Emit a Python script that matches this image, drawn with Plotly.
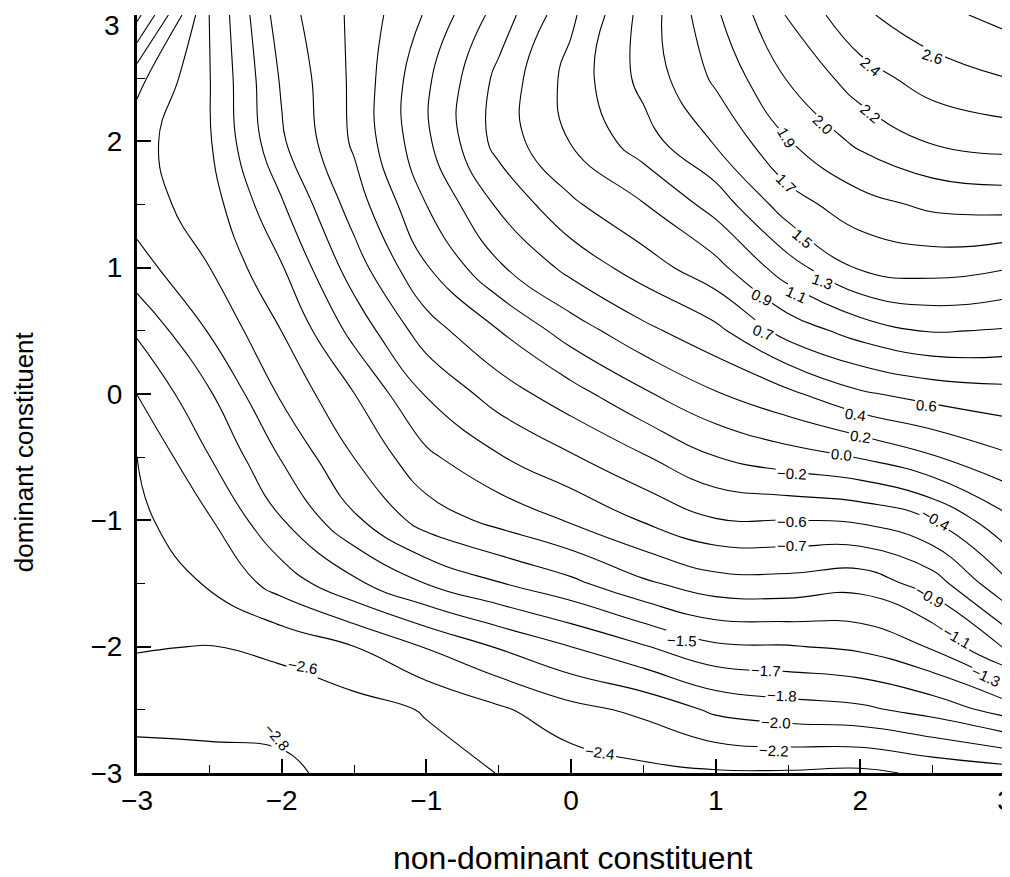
import plotly.graph_objects as go

# grid coordinates (non-dominant = x, dominant = y)
x_vals = [-3, -2.5, -2, -1.5, -1, -0.5, 0, 0.5, 1, 1.5, 2, 2.5, 3]
y_vals = [-3, -2.5, -2, -1.5, -1, -0.5, 0, 0.5, 1, 1.5, 2, 2.5, 3]

z_rows = [
    [-2.88, -2.86, -2.83, -2.75, -2.69, -2.61, -2.54, -2.48, -2.45, -2.45, -2.47, -2.39, -2.34],
    [-2.74, -2.74, -2.75, -2.69, -2.60, -2.46, -2.30, -2.20, -2.02, -1.95, -1.91, -1.80, -1.61],
    [-2.60, -2.62, -2.56, -2.43, -2.23, -2.04, -1.87, -1.70, -1.53, -1.51, -1.46, -1.29, -0.91],
    [-2.54, -2.41, -2.16, -1.91, -1.68, -1.51, -1.36, -1.16, -1.02, -1.01, -1.06, -0.85, -0.42],
    [-2.48, -2.26, -1.88, -1.53, -1.23, -1.07, -0.92, -0.74, -0.58, -0.57, -0.54, -0.38, -0.06],
    [-2.43, -2.06, -1.67, -1.31, -0.98, -0.77, -0.59, -0.40, -0.20, -0.09, 0.00, 0.16, 0.33],
    [-2.24, -1.89, -1.47, -1.13, -0.74, -0.48, -0.27, -0.04, 0.16, 0.32, 0.52, 0.62, 0.67],
    [-2.03, -1.67, -1.31, -0.88, -0.47, -0.20, 0.08, 0.31, 0.50, 0.81, 1.00, 1.12, 1.09],
    [-1.76, -1.50, -1.14, -0.66, -0.21, 0.15, 0.42, 0.64, 0.86, 1.21, 1.50, 1.55, 1.49],
    [-1.59, -1.40, -0.96, -0.48, -0.01, 0.39, 0.70, 0.91, 1.18, 1.58, 1.78, 1.89, 1.92],
    [-1.57, -1.33, -0.78, -0.35, 0.14, 0.62, 0.93, 1.21, 1.50, 1.84, 2.08, 2.24, 2.30],
    [-1.74, -1.32, -0.73, -0.34, 0.14, 0.60, 0.99, 1.35, 1.70, 2.05, 2.32, 2.50, 2.59],
    [-2.30, -1.31, -0.65, -0.34, 0.01, 0.44, 0.88, 1.36, 1.82, 2.24, 2.56, 2.72, 2.84],
]

# contour labels as printed on the chart
label_text = ["2.6", "2.4", "2.2", "2.0", "1.9", "1.7", "1.5", "1.3", "1.1", "0.9", "0.7",
              "0.6", "0.4", "0.2", "0.0", "-0.2", "-0.4", "-0.6", "-0.7", "-0.9", "-1.1",
              "-1.3", "-1.5", "-1.7", "-1.8", "-2.0", "-2.2", "-2.4", "-2.6", "-2.8"]
label_x = [2.50, 2.07, 2.07, 1.74, 1.49, 1.49, 1.60, 1.74, 1.56, 1.32, 1.33,
           2.46, 1.97, 2.00, 1.87, 1.53, 2.52, 1.53, 1.53, 2.48, 2.67,
           2.87, 0.77, 1.35, 1.46, 1.42, 1.40, 0.20, -1.85, -2.03]
label_y = [2.67, 2.59, 2.22, 2.13, 2.03, 1.67, 1.23, 0.89, 0.79, 0.76, 0.49,
           -0.09, -0.16, -0.34, -0.48, -0.63, -0.99, -1.01, -1.20, -1.60, -1.93,
           -2.24, -1.95, -2.19, -2.39, -2.60, -2.82, -2.84, -2.16, -2.72]
label_angle = [18, 40, 40, 45, 60, 45, 40, 20, 25, 25, 20,
               5, 8, 8, 5, 3, 30, 0, 0, 30, 30,
               25, 3, 3, 3, 3, 3, 8, 10, 50]

tick_vals = [-3, -2, -1, 0, 1, 2, 3]
x_tick_text = ["\u22123", "\u22122", "\u22121", "0", "1", "2", "3"]
# the top y label "3" sits a little below its tick in the original; drawn separately
y_tick_text = ["\u22123", "\u22122", "\u22121", "0", "1", "2", ""]

FONT = "Liberation Sans, Arial"

fig = go.Figure()
fig.add_trace(go.Contour(
    x=x_vals, y=y_vals, z=z_rows,
    contours=dict(start=-2.8, end=2.8, size=0.186, coloring="lines", showlabels=False),
    colorscale=[[0, "black"], [1, "black"]],
    showscale=False,
    line=dict(width=1.1, smoothing=1.3),
    hoverinfo="skip",
))

annotations = []
for t, lx, ly, a in zip(label_text, label_x, label_y, label_angle):
    annotations.append(dict(
        x=lx, y=ly, xref="x", yref="y", text=t.replace("-", "\u2212"), showarrow=False,
        textangle=a, bgcolor="white", borderpad=1,
        font=dict(family=FONT, size=15, color="black"),
    ))
annotations.append(dict(
    x=-0.0173, y=0.9855, xref="paper", yref="paper", text="3",
    showarrow=False, xanchor="right", yanchor="middle",
    font=dict(family=FONT, size=28, color="black"),
))
annotations.append(dict(
    x=-0.130, y=0.4235, xref="paper", yref="paper", text="dominant constituent",
    showarrow=False, textangle=-90, xanchor="center", yanchor="middle",
    font=dict(family=FONT, size=26, color="black"),
))
annotations.append(dict(
    x=0.502, y=-0.112, xref="paper", yref="paper", text="non-dominant constituent",
    showarrow=False, xanchor="center", yanchor="middle",
    font=dict(family=FONT, size=32, color="black"),
))

axis_common = dict(
    range=[-3, 3], tickvals=tick_vals, ticks="inside", ticklen=14, tickwidth=1.5,
    tickcolor="black", showgrid=False, zeroline=False, showline=True,
    linecolor="black", linewidth=3, mirror=False, automargin=False,
    ticklabeloverflow="allow",
    tickfont=dict(family=FONT, size=28, color="black"),
    minor=dict(ticks="inside", ticklen=8, tickwidth=1, tickcolor="black", dtick=0.5, showgrid=False),
)

# the page body adds an 8 px offset, so margins are set 8 px smaller on the left/top
fig.update_layout(
    width=1010, height=877,
    margin=dict(l=129, r=13, t=7, b=112),
    paper_bgcolor="white", plot_bgcolor="white",
    xaxis=dict(**axis_common, ticktext=x_tick_text, ticklabelstandoff=0),
    yaxis=dict(**axis_common, ticktext=y_tick_text, ticklabelstandoff=6),
    annotations=annotations,
    showlegend=False,
)

fig.write_html("out.html")
